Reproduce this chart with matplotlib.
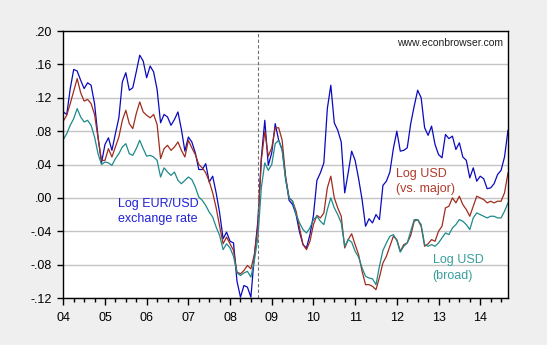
import numpy as np
import matplotlib.pyplot as plt

plt.rcParams['font.family'] = ['Liberation Sans', 'DejaVu Sans']

# monthly, 2004M01 - 2014M09
eur_usd = [
    .103, .100, .131, .154, .152, .141, .131, .138, .135, .113, .073, .042,
    .064, .072, .057, .077, .096, .139, .150, .129, .132, .151, .171, .164,
    .144, .158, .151, .130, .090, .100, .097, .087, .094, .103, .082, .056,
    .073, .067, .054, .034, .034, .041, .019, .026, .006, -.018, -.049, -.041,
    -.052, -.054, -.100, -.119, -.105, -.107, -.119, -.069, -.028, .048, .093, .039,
    .054, .089, .069, .058, .024, -.003, -.008, -.020, -.041, -.056, -.060, -.044,
    -.021, .021, .030, .042, .107, .135, .090, .081, .067, .006, .030, .056,
    .045, .023, -.002, -.034, -.025, -.030, -.020, -.026, .015, .020, .031, .059,
    .080, .056, .057, .060, .089, .110, .129, .120, .084, .075, .086, .064,
    .052, .048, .076, .071, .074, .058, .066, .049, .045, .024, .036, .020,
    .026, .023, .011, .012, .017, .028, .033, .049, .081,
]
usd_major = [
    .092, .099, .113, .128, .143, .126, .116, .118, .113, .100, .072, .045,
    .045, .059, .049, .061, .073, .093, .105, .089, .083, .101, .115, .103,
    .099, .096, .100, .088, .047, .059, .063, .057, .061, .067, .057, .049,
    .069, .060, .052, .040, .036, .030, .020, .006, -.012, -.034, -.055, -.047,
    -.055, -.063, -.089, -.091, -.087, -.081, -.085, -.068, -.035, .045, .080, .050,
    .060, .084, .084, .069, .025, .000, -.004, -.016, -.036, -.056, -.062, -.052,
    -.032, -.021, -.024, -.018, .012, .026, .000, -.012, -.022, -.060, -.050, -.043,
    -.056, -.068, -.088, -.104, -.104, -.106, -.110, -.095, -.078, -.070, -.058, -.046,
    -.050, -.064, -.056, -.054, -.045, -.028, -.026, -.034, -.058, -.055, -.050, -.052,
    -.040, -.034, -.012, -.010, .000, -.006, .002, -.008, -.014, -.022, -.010, .002,
    .000, -.002, -.006, -.004, -.006, -.004, -.004, .006, .030,
]
usd_broad = [
    .070, .077, .087, .095, .107, .097, .091, .093, .087, .073, .053, .040,
    .043, .042, .039, .047, .053, .061, .065, .053, .051, .059, .069, .059,
    .050, .051, .049, .045, .025, .036, .031, .027, .031, .021, .017, .021,
    .025, .022, .013, .001, -.003, -.009, -.017, -.023, -.035, -.045, -.062, -.055,
    -.060, -.070, -.090, -.093, -.090, -.088, -.095, -.075, -.048, .012, .042, .033,
    .040, .065, .069, .057, .021, .000, -.004, -.020, -.030, -.038, -.042, -.036,
    -.026, -.022, -.028, -.032, -.014, .000, -.012, -.020, -.030, -.058, -.050, -.053,
    -.064, -.071, -.084, -.094, -.096, -.097, -.104, -.082, -.063, -.054, -.046, -.044,
    -.051, -.065, -.058, -.054, -.040, -.026, -.026, -.032, -.056, -.058, -.056, -.058,
    -.054, -.048, -.042, -.044, -.036, -.032, -.026, -.028, -.032, -.038, -.024, -.018,
    -.020, -.022, -.024, -.022, -.022, -.024, -.024, -.016, -.006,
]
years = list(range(2004, 2015))
year_labels = ['04', '05', '06', '07', '08', '09', '10', '11', '12', '13', '14']
lehman = 2008 + 8 / 12

blue = '#0A0ABE'
red = '#A02C1E'
teal = '#1E8A8A'

t = 2004 + np.arange(len(eur_usd)) / 12

fig = plt.figure(figsize=(5.47, 3.45), dpi=100, facecolor='#EFEFEF')
ax = fig.add_axes([0.1157, 0.1362, 0.8130, 0.7739])

ax.plot(t, eur_usd, color=blue, lw=0.9)
ax.plot(t, usd_major, color=red, lw=0.9)
ax.plot(t, usd_broad, color=teal, lw=0.9)
ax.axvline(lehman, color='#707070', lw=0.8, ls=(0, (3, 2)))

ax.set_xlim(2004, t[-1])
ax.set_ylim(-.12, .20)
yt = np.arange(-.12, .201, .04)
ax.set_yticks(yt)
ax.set_yticklabels([f'{v:.2f}'.replace('0.', '.') for v in yt])
ax.set_xticks(years)
ax.set_xticklabels(year_labels)
ax.set_xticks(np.arange(2004, t[-1], 0.25), minor=True)

ax.yaxis.grid(True, color='#C4C4C4', lw=1)
ax.set_axisbelow(True)
for s in ax.spines.values():
    s.set_linewidth(1.0)
ax.tick_params(axis='y', direction='out', length=4, width=1, pad=4, labelsize=9)
ax.tick_params(axis='x', which='major', direction='out', length=5, width=1, pad=5, labelsize=9)
ax.tick_params(axis='x', which='minor', direction='out', length=3, width=1)

ax.text(2005.31, -.0074, 'Log EUR/USD', color='#2020D8', fontsize=9, va='center')
ax.text(2005.31, -.025, 'exchange rate', color='#2020D8', fontsize=9, va='center')
ax.text(2011.97, .0285, 'Log USD', color='#B03A2C', fontsize=9, va='center')
ax.text(2011.97, .0106, '(vs. major)', color='#B03A2C', fontsize=9, va='center')
ax.text(2012.86, -.0746, 'Log USD', color='#3A9E9E', fontsize=9, va='center')
ax.text(2012.86, -.0938, '(broad)', color='#3A9E9E', fontsize=9, va='center')
ax.text(2014.54, .1856, 'www.econbrowser.com', color='#202020', fontsize=7.5,
        ha='right', va='center')

fig.savefig('out.png', dpi=100, facecolor=fig.get_facecolor())
